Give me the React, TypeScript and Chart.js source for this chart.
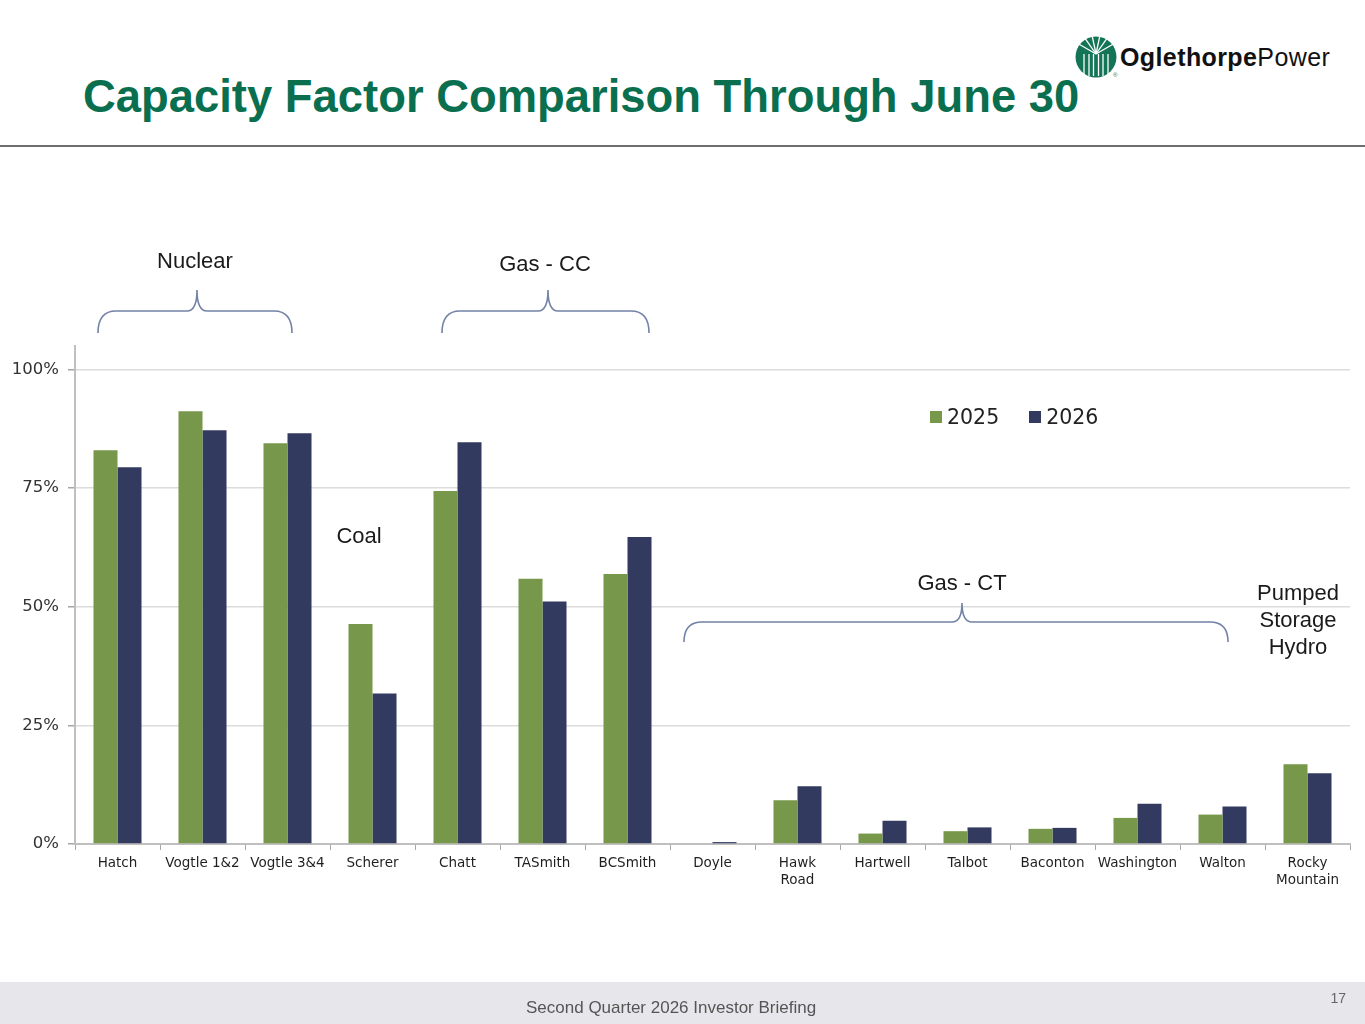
import { useEffect, useRef } from 'react'
import { Chart, registerables } from 'chart.js'

Chart.register(...registerables)

const plants = [
  'Hatch', 'Vogtle 1&2', 'Vogtle 3&4', 'Scherer', 'Chatt', 'TASmith', 'BCSmith',
  'Doyle', ['Hawk', 'Road'], 'Hartwell', 'Talbot', 'Baconton', 'Washington', 'Walton',
  ['Rocky', 'Mountain'],
]
const years = ['2025', '2026']
const cf2025 = [83.0, 91.2, 84.5, 46.4, 74.4, 55.9, 56.9, 0, 9.2, 2.2, 2.7, 3.2, 5.5, 6.2, 16.8]
const cf2026 = [79.4, 87.2, 86.6, 31.7, 84.7, 51.1, 64.7, 0.4, 12.2, 4.9, 3.5, 3.4, 8.5, 7.9, 14.9]
const yTicks = [0, 25, 50, 75, 100]

const GREEN = '#77974a'
const NAVY = '#333a5f'
const seriesColors = [GREEN, NAVY]

// group labels over the bars
const groups = [
  { text: ['Nuclear'], x: 195, y: 260 },
  { text: ['Gas - CC'], x: 545, y: 263 },
  { text: ['Coal'], x: 359, y: 535 },
  { text: ['Gas - CT'], x: 962, y: 582 },
  { text: ['Pumped', 'Storage', 'Hydro'], x: 1298, y: 619 },
]
const braces = [
  { x1: 98, x2: 292, xm: 197, yEnd: 333, yH: 311, yTip: 290 },
  { x1: 442, x2: 649, xm: 548, yEnd: 333, yH: 311, yTip: 290 },
  { x1: 684, x2: 1228, xm: 962, yEnd: 642, yH: 622, yTip: 603 },
]

function bracePath(b: any) {
  const r = 18
  const r2 = 10
  return `M${b.x1},${b.yEnd} Q${b.x1},${b.yH} ${b.x1 + r},${b.yH} L${b.xm - r2},${b.yH} Q${b.xm},${b.yH} ${b.xm},${b.yTip} Q${b.xm},${b.yH} ${b.xm + r2},${b.yH} L${b.x2 - r},${b.yH} Q${b.x2},${b.yH} ${b.x2},${b.yEnd}`
}

function CapacityChart() {
  const canvasRef = useRef<HTMLCanvasElement | null>(null)
  const chartRef = useRef<Chart | null>(null)

  useEffect(() => {
    if (!canvasRef.current) return
    const ctx = canvasRef.current.getContext('2d')!

    chartRef.current = new Chart(ctx, {
      type: 'bar',
      data: {
        labels: plants as any,
        datasets: [
          { label: years[0], data: cf2025, backgroundColor: GREEN, borderWidth: 0 },
          { label: years[1], data: cf2026, backgroundColor: NAVY, borderWidth: 0 },
        ],
      },
      options: {
        animation: false,
        responsive: true,
        maintainAspectRatio: false,
        layout: { padding: { top: 2, right: 15, left: 0, bottom: 0 } },
        datasets: { bar: { categoryPercentage: 0.565, barPercentage: 1 } },
        plugins: { legend: { display: false }, tooltip: { enabled: false } },
        scales: {
          x: {
            afterFit: (s: any) => { s.height = 56 },
            grid: {
              offset: true,
              drawOnChartArea: false,
              tickLength: 6,
              tickColor: '#a6a6a6',
            },
            border: { color: '#bfbfbf', width: 2 },
            ticks: {
              autoSkip: false,
              maxRotation: 0,
              padding: 5,
              color: '#1f1f1f',
              font: { family: 'DejaVu Sans', size: 13.5, lineHeight: 1.25 },
            },
          },
          y: {
            min: 0,
            max: 105,
            afterFit: (s: any) => { s.width = 75 },
            afterBuildTicks: (axis: any) => {
              axis.ticks = axis.ticks.filter((t: any) => yTicks.includes(t.value))
            },
            grid: { color: '#dcdcdc', lineWidth: 1.5, tickLength: 7, tickColor: '#a6a6a6' },
            border: { color: '#bfbfbf', width: 2 },
            ticks: {
              stepSize: 25,
              padding: 9,
              color: '#333',
              font: { family: 'DejaVu Sans', size: 16.5 },
              callback: (v: any) => v + '%',
            },
          },
        },
      },
    })

    return () => chartRef.current?.destroy()
  }, [])

  return (
    <div style={{ position: 'absolute', left: 0, top: 327, width: 1365, height: 573 }}>
      <canvas ref={canvasRef} />
    </div>
  )
}

export default function App() {
  return (
    <div
      style={{
        position: 'fixed', left: 0, top: 0, width: 1365, height: 1024,
        background: '#fff', overflow: 'hidden', fontFamily: '"Liberation Sans", Arial, sans-serif',
      }}
    >
      <div
        style={{
          position: 'absolute', left: 83, top: 74, fontSize: 45.4, lineHeight: '45px',
          fontWeight: 700, color: '#0a6f4f', whiteSpace: 'nowrap',
        }}
      >
        Capacity Factor Comparison Through June 30
      </div>

      {/* logo */}
      <svg style={{ position: 'absolute', left: 1070, top: 30 }} width={60} height={52}>
        <circle cx={26} cy={27} r={20.5} fill="#137556" />
        {[-12, -7, -2.5, 2.5, 7, 12].map((dx, i) => (
          <line key={i} x1={26 + dx} y1={24} x2={26 + dx} y2={46} stroke="#fff" strokeWidth={1.3} />
        ))}
        {[-60, -35, -12, 12, 35, 60].map((a, i) => {
          const rad = (a * Math.PI) / 180
          return (
            <line key={'r' + i} x1={26} y1={24} x2={26 + 20 * Math.sin(rad)} y2={24 - 20 * Math.cos(rad)}
              stroke="#fff" strokeWidth={1.3} />
          )
        })}
        <text x={43} y={47} fontSize={6} fill="#137556">®</text>
      </svg>
      <div
        style={{
          position: 'absolute', left: 1120, top: 45, fontSize: 25, lineHeight: '25px',
          letterSpacing: 0.4, color: '#111', whiteSpace: 'nowrap',
        }}
      >
        <span style={{ fontWeight: 700 }}>Oglethorpe</span>Power
      </div>

      <div style={{ position: 'absolute', left: 0, top: 145, width: 1365, height: 2, background: '#6e6e6e' }} />

      <CapacityChart />

      <svg style={{ position: 'absolute', left: 0, top: 0 }} width={1365} height={1024}>
        {braces.map((b, i) => (
          <path key={i} d={bracePath(b)} fill="none" stroke="#7383a6" strokeWidth={1.6} />
        ))}
      </svg>

      {groups.map((g, i) => (
        <div
          key={i}
          style={{
            position: 'absolute', left: g.x, top: g.y, transform: 'translate(-50%, -50%)',
            fontSize: 22, lineHeight: '27px', color: '#1a1a1a', textAlign: 'center', whiteSpace: 'nowrap',
          }}
        >
          {g.text.map((t, j) => <div key={j}>{t}</div>)}
        </div>
      ))}

      {/* legend */}
      <div
        style={{
          position: 'absolute', left: 930, top: 405, display: 'flex', alignItems: 'center',
          fontFamily: '"DejaVu Sans", sans-serif', fontSize: 20.5, color: '#222',
        }}
      >
        {years.map((y, i) => (
          <div key={y} style={{ display: 'flex', alignItems: 'center', marginRight: 30 }}>
            <div style={{ width: 12, height: 12, background: seriesColors[i], marginRight: 5 }} />
            <span>{y}</span>
          </div>
        ))}
      </div>

      <div style={{ position: 'absolute', left: 0, top: 982, width: 1365, height: 42, background: '#e7e7eb' }}>
        <div style={{ position: 'absolute', left: 526, top: 16, fontSize: 17, color: '#555', whiteSpace: 'nowrap' }}>
          Second Quarter 2026 Investor Briefing
        </div>
        <div style={{ position: 'absolute', right: 19, top: 8, fontSize: 14, color: '#666' }}>17</div>
      </div>
    </div>
  )
}
